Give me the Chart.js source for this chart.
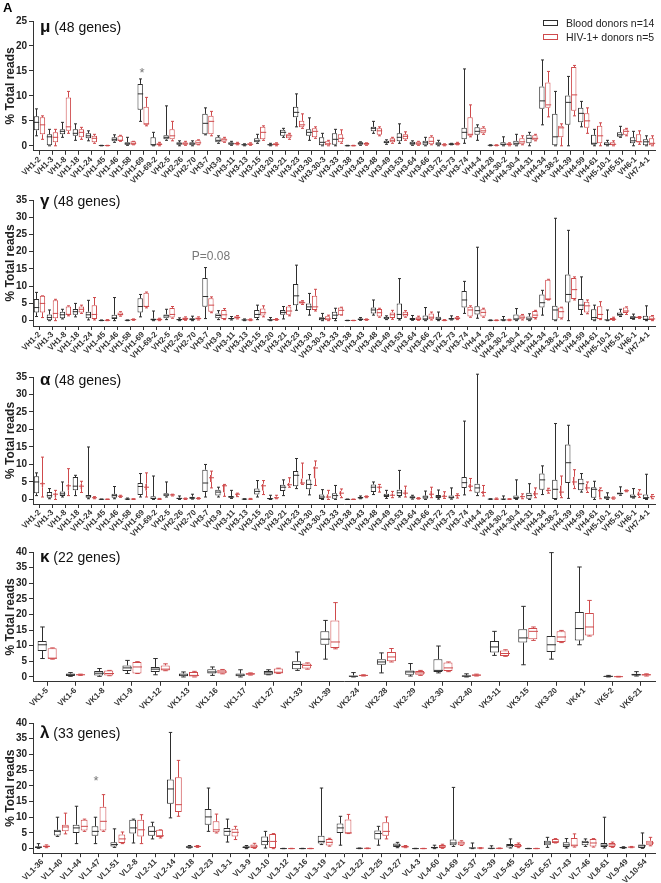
<!DOCTYPE html>
<html>
<head>
<meta charset="utf-8">
<script src="https://cdn.jsdelivr.net/npm/chart.js@4.4.1/dist/chart.umd.min.js"></script>
<style>
body { margin: 0; background: #fff; }
#wrap { position: relative; width: 661px; height: 883px; overflow: hidden; font-family: "Liberation Sans", Arial, sans-serif; }
.panel { position: absolute; left: 0; width: 661px; }
.ttl { position: absolute; left: 40px; font-size: 14px; line-height: 18px; color: #111; white-space: nowrap; }
.ttl b { font-size: 17px; }
.note { position: absolute; color: #777; white-space: nowrap; transform: translate(-50%, -50%); }
#legend { position: absolute; left: 543px; top: 16px; font-size: 10.5px; color: #222; }
#legend div { height: 14px; line-height: 14px; white-space: nowrap; }
#legend span { display: inline-block; width: 13px; height: 4px; border: 1px solid; margin-right: 8px; vertical-align: 1px; }
</style>
</head>
<body>
<div id="wrap">
  <div style="position:absolute;left:3px;top:0;font-weight:bold;font-size:13px;">A</div>
  <div class="ttl" style="top:18px"><b>μ</b> (48 genes)</div>
  <div class="ttl" style="top:192px"><b>γ</b> (48 genes)</div>
  <div class="ttl" style="top:371px"><b>α</b> (48 genes)</div>
  <div class="ttl" style="top:548px"><b>κ</b> (22 genes)</div>
  <div class="ttl" style="top:724px"><b>λ</b> (33 genes)</div>
  <div id="legend">
    <div><span style="border-color:#2e2e2e"></span>Blood donors n=14</div>
    <div><span style="border-color:#cf4a4c"></span>HIV-1+ donors n=5</div>
  </div>
  <div class="note" style="left:142px;top:72px;font-size:13px;">*</div>
  <div class="note" style="left:211px;top:256px;font-size:12px;">P=0.08</div>
  <div class="note" style="left:96px;top:780px;font-size:13px;">*</div>
</div>
<script>
// gene labels
const heavyGenes = ['VH1-2','VH1-3','VH1-8','VH1-18','VH1-24','VH1-45','VH1-46','VH1-58','VH1-69','VH1-69-2',
  'VH2-5','VH2-26','VH2-70','VH3-7','VH3-9','VH3-11','VH3-13','VH3-15','VH3-20','VH3-21','VH3-23','VH3-30',
  'VH3-30-3','VH3-33','VH3-38','VH3-43','VH3-48','VH3-49','VH3-53','VH3-64','VH3-66','VH3-72','VH3-73','VH3-74',
  'VH4-4','VH4-28','VH4-30-2','VH4-30-4','VH4-31','VH4-34','VH4-38-2','VH4-39','VH4-59','VH4-61','VH5-10-1',
  'VH5-51','VH6-1','VH7-4-1'];
const kappaGenes = ['VK1-5','VK1-6','VK1-8','VK1-9','VK1-12','VK1-13','VK1-16','VK1-17','VK1-27','VK1-33','VK1-39',
  'VK2-24','VK2-28','VK2-29','VK2-30','VK2-40','VK3-11','VK3-15','VK3-20','VK4-1','VK5-2','VK6-21'];
const lambdaGenes = ['VL1-36','VL1-40','VL1-44','VL1-47','VL1-51','VL2-8','VL2-11','VL2-14','VL2-18','VL2-23','VL3-1',
  'VL3-9','VL3-10','VL3-12','VL3-16','VL3-19','VL3-21','VL3-22','VL3-25','VL3-27','VL4-3','VL4-60','VL4-69','VL5-37',
  'VL5-39','VL5-45','VL5-52','VL6-57','VL7-43','VL7-46','VL8-61','VL9-49','VL10-54'];

// [min, q1, median, q3, max]  % total reads
const muBlood = [[2.0,3.1,4.7,5.9,7.4],[0,0,1.8,2.3,3.3],[1.7,2.3,2.9,3.3,4.7],[1.1,2.0,2.5,3.3,4.4],[1.0,1.5,2.0,2.5,3.0],
  [0,0,0.05,0.1,0.1],[0.7,0.9,1.3,1.7,2.2],[0.1,0.2,0.4,0.7,1.7],[4.9,7.2,10.4,12.4,13.4],[0,0,0.2,1.7,2.7],
  [1.1,1.3,1.7,2.1,8.0],[0,0.2,0.4,0.7,1.0],[0,0.1,0.4,0.7,1.0],[2.2,2.3,4.5,6.4,7.6],[0.5,0.7,1.1,1.7,2.0],
  [0.1,0.2,0.4,0.7,0.9],[0,0.1,0.2,0.3,0.4],[0.5,0.7,1.0,1.5,2.3],[0,0.1,0.2,0.3,0.5],[1.7,2.0,2.7,3.2,3.5],
  [3.8,5.7,6.7,7.8,10.4],[1.1,2.0,2.7,3.3,5.6],[0,0,0.7,1.7,2.5],[0,0.2,1.3,2.5,3.3],[0,0,0.02,0.05,0.1],
  [0.1,0.2,0.5,0.7,0.8],[2.5,2.9,3.5,3.8,4.9],[0.3,0.5,0.7,1.0,1.2],[0.5,0.9,1.7,2.5,4.4],[0.1,0.2,0.5,0.8,1.0],
  [0,0.1,0.6,1.0,1.7],[0,0.1,0.4,0.7,1.1],[0.2,0.2,0.3,0.5,0.5],[0.5,1.3,2.7,3.6,15.4],[1.1,2.2,2.9,3.7,4.2],
  [0,0.05,0.1,0.1,0.2],[0,0,0.3,0.7,1.8],[0,0,0.5,1.0,2.3],[0,0.5,1.5,2.2,2.7],[4.2,7.4,9.0,11.9,17.2],
  [0,0,1.8,6.4,10.9],[0,4.2,8.7,10.1,13.9],[3.8,4.7,6.5,7.6,8.9],[0,0.2,0.5,2.2,3.3],[0,0,0.3,0.7,1.1],
  [1.7,1.8,2.2,2.7,3.9],[0,0.5,1.0,1.7,2.9],[0,0,0.8,1.3,2.0]];
const muHiv = [[1.3,2.3,4.2,5.7,6.0],[0,0.7,1.7,2.7,3.3],[2.5,3.0,3.8,9.7,10.9],[1.3,1.7,2.7,3.3,3.7],[0.5,0.7,1.5,2.0,2.3],
  [0,0,0.05,0.1,0.1],[0.9,1.0,1.1,2.0,2.1],[0.2,0.2,0.5,0.9,0.9],[4.0,4.2,4.4,7.8,9.7],[0,0.1,0.3,0.5,0.7],
  [1.0,1.3,2.0,3.3,4.9],[0.1,0.2,0.4,0.7,0.9],[0.2,0.2,0.6,1.1,1.2],[2.0,2.3,4.9,6.0,6.9],[0.7,0.8,1.2,1.5,1.7],
  [0.2,0.3,0.4,0.6,0.7],[0.1,0.2,0.3,0.5,0.6],[1.1,1.3,2.7,3.8,4.0],[0,0.1,0.3,0.5,0.6],[1.3,1.5,2.0,2.3,2.5],
  [3.5,3.7,4.2,5.0,6.4],[1.5,1.7,2.9,3.5,3.8],[0,0,0.4,0.9,1.1],[0.5,0.7,1.5,2.3,3.2],[0,0,0.02,0.05,0.1],
  [0.1,0.2,0.4,0.6,0.6],[2.0,2.2,3.0,3.5,3.8],[0.5,0.7,1.1,1.5,1.7],[1.1,1.3,1.9,2.3,2.8],[0.1,0.2,0.4,0.8,0.9],
  [0.2,0.3,0.9,1.8,2.0],[0,0.1,0.2,0.3,0.4],[0.2,0.2,0.4,0.6,0.7],[1.8,2.0,2.3,5.7,8.2],[2.3,2.5,3.0,3.6,3.8],
  [0,0.05,0.1,0.1,0.2],[0,0,0.3,0.5,0.6],[0.2,0.3,0.8,1.5,2.0],[1.0,1.1,1.5,2.1,2.3],[5.8,7.6,8.2,12.7,14.9],
  [0,1.7,3.6,4.0,4.4],[6.0,7.0,10.2,15.8,16.1],[2.5,3.6,5.0,6.5,7.6],[0,0.5,2.0,4.0,4.6],[0,0,0.3,0.7,1.0],
  [2.0,2.2,2.9,3.3,3.5],[0.3,0.7,0.8,2.3,3.0],[0,0,0.5,1.5,2.0]];

const gammaBlood = [[1.2,2.4,3.8,6.3,8.2],[0,0,0.9,1.8,3.1],[0.5,0.7,1.7,2.6,3.3],[1.1,1.7,2.6,3.4,5.0],[0.2,0.7,1.7,2.6,5.9],
  [0,0,0.05,0.1,0.2],[0,0.5,0.8,1.7,6.7],[0,0.05,0.1,0.15,0.2],[1.1,2.4,4.1,6.5,7.6],[0,0,0.3,0.6,2.8],
  [0.3,0.7,1.4,1.8,3.3],[0,0.1,0.3,0.5,0.8],[0,0.1,0.4,0.7,1.3],[0.6,4.0,7.0,12.4,15.4],[0.3,0.7,1.5,2.1,2.9],
  [0.2,0.4,0.6,0.8,1.2],[0,0.1,0.2,0.3,0.5],[0.3,0.8,1.8,3.1,4.5],[0,0.1,0.2,0.4,0.9],[0.5,1.7,2.4,3.1,4.1],
  [3.0,4.5,7.2,10.6,16.1],[1.6,3.1,4.0,5.0,7.9],[0,0.1,0.6,1.0,2.1],[0,0.5,1.6,2.6,3.6],[0,0,0.05,0.1,0.1],
  [0.1,0.2,0.4,0.6,0.9],[1.6,2.1,3.1,3.8,6.0],[0.3,0.4,0.8,1.1,1.4],[0.2,0.5,1.8,5.0,12.2],[0.1,0.2,0.5,0.8,1.5],
  [0,0.1,0.5,1.5,3.8],[0,0.2,0.5,1.1,2.5],[0.2,0.3,0.5,0.8,1.4],[2.1,3.8,6.0,8.6,11.4],[0.7,1.8,2.9,4.2,21.3],
  [0,0.05,0.1,0.15,0.2],[0,0.05,0.2,0.4,1.2],[0,0.1,0.5,1.8,3.5],[0,0.1,0.5,1.2,2.0],[1.6,3.8,5.2,7.6,8.8],
  [0,0,3.1,4.3,29.7],[0,5.3,7.6,13.4,26.2],[1.8,3.1,4.5,6.3,12.7],[0,0,0.9,3.3,4.5],[0,0.1,0.2,0.3,3.1],
  [1.2,1.4,1.8,2.4,3.3],[0.4,0.5,1.0,1.3,1.9],[0,0.2,0.4,1.4,4.3]];
const gammaHiv = [[0.9,2.4,5.0,7.2,7.2],[0,0.7,2.1,5.9,6.2],[1.4,1.7,1.8,4.1,4.3],[2.1,2.4,3.3,4.1,4.5],[0.2,0.5,1.8,4.5,6.7],
  [0,0.05,0.1,0.2,0.3],[1.3,1.5,1.8,2.4,2.6],[0.1,0.2,0.3,0.4,0.5],[3.7,4.0,4.1,8.1,8.3],[0,0.1,0.3,0.6,0.7],
  [0.7,0.9,1.8,3.7,4.1],[0.1,0.2,0.6,0.9,1.1],[0.2,0.3,0.6,0.9,1.1],[2.3,2.6,4.5,6.5,6.9],[0.3,0.5,1.7,3.1,3.5],
  [0.5,0.6,0.9,1.3,1.5],[0,0.1,0.2,0.4,0.5],[1.1,1.5,2.3,3.5,4.3],[0.1,0.2,0.3,0.5,0.6],[1.4,1.7,2.8,4.1,4.4],
  [4.7,5.0,5.2,5.6,5.8],[2.8,3.1,4.0,7.2,9.1],[0,0.1,0.5,1.3,1.6],[1.6,1.6,3.0,3.8,3.9],[0,0,0.05,0.1,0.1],
  [0.1,0.2,0.3,0.4,0.5],[1.0,1.2,2.3,3.4,3.6],[0.4,0.8,1.7,2.4,3.0],[1.0,1.2,1.8,2.6,2.9],[0.1,0.2,0.5,1.0,1.3],
  [0.2,0.4,1.0,2.1,2.5],[0,0.05,0.1,0.2,0.3],[0.3,0.4,0.7,1.0,1.2],[1.0,1.2,3.1,4.0,4.3],[1.0,1.2,2.4,3.3,3.6],
  [0,0.05,0.1,0.15,0.2],[0,0.1,0.2,0.3,0.4],[0.2,0.4,1.0,1.6,1.8],[0.5,0.8,1.6,2.8,3.0],[6.0,6.0,6.3,11.9,12.0],
  [0.5,0.7,2.6,3.8,3.9],[6.0,6.3,9.0,12.4,12.7],[2.0,2.4,4.3,5.5,6.0],[0.3,0.5,1.8,4.2,5.5],[0.1,0.2,0.4,0.8,1.0],
  [1.8,2.2,2.8,3.8,4.0],[0.6,0.8,1.0,1.1,1.2],[0,0.2,0.5,1.3,1.5]];

const alphaBlood = [[1.1,1.8,5.0,6.6,7.6],[0.2,0.5,1.1,2.1,3.1],[0.7,1.0,1.6,2.3,5.0],[1.1,2.6,3.8,6.4,6.9],[0.2,0.5,1.0,1.3,15.0],
  [0,0,0.05,0.1,0.1],[0.2,0.5,1.1,1.6,3.7],[0,0.05,0.1,0.2,0.4],[0.7,1.3,3.7,4.7,7.4],[0,0,0.3,0.9,6.7],
  [0.7,0.9,1.3,1.8,5.0],[0,0.1,0.3,0.5,1.0],[0.1,0.2,0.4,0.8,1.5],[0.7,2.1,4.7,8.5,10.0],[0.7,1.1,2.1,2.8,3.5],
  [0.3,0.5,0.7,1.0,2.6],[0,0.05,0.1,0.15,0.2],[0.7,1.4,2.3,3.1,5.4],[0,0.1,0.2,0.4,1.2],[1.1,2.4,3.5,4.2,5.6],
  [3.1,3.8,6.9,8.1,11.7],[1.3,2.9,4.3,5.7,7.1],[0,0,0.7,1.4,2.8],[0,0.2,1.1,1.8,4.0],[0,0,0.02,0.05,0.1],
  [0.2,0.3,0.5,0.7,1.0],[1.4,2.1,3.5,4.3,5.0],[0.3,0.7,1.1,1.6,2.6],[0.7,1.0,1.9,2.8,8.3],[0.1,0.3,0.6,0.9,1.2],
  [0,0.2,0.7,1.1,2.4],[0.1,0.4,0.8,1.3,2.7],[0.1,0.3,0.6,1.1,3.3],[1.3,3.3,4.8,6.4,22.4],[1.1,1.9,3.3,4.5,35.8],
  [0,0.05,0.1,0.15,0.2],[0,0.05,0.1,0.2,1.0],[0,0,0.5,1.1,5.6],[0,0.2,1.1,1.9,4.5],[1.4,2.8,5.6,7.4,9.6],
  [0,0,2.9,5.6,21.7],[0.3,4.7,10.5,15.7,21.2],[2.1,2.6,4.5,5.9,7.4],[0,0.5,2.9,3.5,5.2],[0,0.2,0.5,0.9,1.9],
  [1.2,1.4,1.7,2.0,3.6],[0.4,0.5,0.8,1.4,3.1],[0,0,0.5,1.4,7.2]];
const alphaHiv = [[0.7,3.5,4.5,5.0,12.1],[0,0.5,1.5,2.0,2.6],[1.1,2.5,3.9,4.5,8.8],[2.0,3.0,3.8,4.5,5.2],[0.2,0.3,0.5,0.7,0.8],
  [0,0,0.05,0.1,0.1],[0.6,0.7,0.9,1.0,1.2],[0,0.05,0.1,0.15,0.2],[0.7,2.5,3.5,4.5,7.6],[0,0.05,0.1,0.2,0.3],
  [1.0,1.1,1.3,1.4,1.5],[0,0.1,0.2,0.3,0.4],[0.1,0.2,0.3,0.4,0.5],[3.3,5.0,6.2,7.0,8.1],[0.9,2.0,3.9,4.1,4.3],
  [0.8,1.0,1.5,1.6,1.8],[0,0.05,0.1,0.2,0.3],[1.4,2.5,3.9,4.5,5.4],[0.2,0.3,0.5,0.8,1.2],[3.5,3.8,4.2,4.8,6.2],
  [4.3,4.5,4.7,6.0,10.4],[4.0,6.0,9.0,9.5,11.0],[0,0.3,0.7,1.5,2.6],[0.5,1.0,1.8,2.5,3.0],[0,0,0.02,0.05,0.1],
  [0.5,0.6,0.8,0.9,1.0],[2.1,2.8,3.5,4.0,4.3],[0.5,0.9,1.2,1.8,2.3],[0.7,1.2,1.8,2.8,3.8],[0.1,0.2,0.3,0.4,0.5],
  [0.5,1.0,1.5,2.5,3.5],[0.3,0.5,0.9,1.5,2.2],[0.4,0.8,1.1,1.3,1.6],[2.5,3.2,3.8,4.5,6.0],[1.0,1.5,2.0,2.5,4.0],
  [0,0.05,0.1,0.2,0.4],[0,0.05,0.1,0.15,0.2],[0.2,0.5,0.8,1.2,1.6],[0.5,1.0,1.6,2.5,3.3],[1.8,2.2,2.6,2.9,3.2],
  [0.5,1.0,2.1,4.0,6.7],[3.1,4.0,5.0,6.5,8.5],[2.0,2.5,3.3,4.5,5.0],[0.2,0.5,2.5,3.0,3.3],[0.1,0.2,0.4,0.6,0.7],
  [2.2,2.3,2.5,2.6,2.7],[0.6,1.0,1.5,2.3,2.8],[0.2,0.4,0.8,1.2,1.4]];

const kappaBlood = [[5.9,8.3,10.3,11.5,16.0],[0.2,0.3,0.7,1.1,1.4],[0.2,0.5,1.2,1.9,2.7],[1.1,1.9,2.9,3.7,5.3],
  [0.7,1.6,2.5,3.2,5.9],[0,0.2,0.6,1.1,1.6],[0.5,1.1,1.6,2.5,3.2],[0,0.2,0.6,1.1,2.3],[0.7,0.7,1.3,1.9,2.3],
  [2.1,2.5,4.0,5.0,8.0],[5.7,10.3,12.1,14.6,18.1],[0,0,0.2,0.5,1.4],[1.3,3.9,4.8,5.7,7.7],[0.3,0.7,1.6,2.1,4.3],
  [1.3,1.6,2.1,5.7,9.9],[0,0.1,0.3,0.5,1.0],[6.9,7.8,9.6,11.5,14.6],[3.9,11.0,12.5,15.3,22.6],
  [5.7,8.0,10.3,13.1,39.8],[10.3,11.7,15.5,20.8,35.2],[0,0.1,0.2,0.3,0.5],[0.3,0.5,0.7,1.0,1.7]];
const kappaHiv = [[5.7,5.8,6.0,9.2,9.3],[0.5,0.6,0.7,0.8,0.9],[0.4,0.5,1.1,2.1,2.1],[1.1,1.1,3.2,4.8,4.9],
  [2.0,2.1,2.5,3.7,4.2],[0,0,0.5,1.6,1.8],[1.0,1.1,1.6,2.3,2.4],[0.6,0.7,1.0,1.2,1.3],[1.1,1.1,1.5,2.7,2.8],
  [2.5,2.7,3.7,4.3,4.5],[9.0,9.3,11.2,18.1,23.8],[0.3,0.4,0.5,0.6,0.7],[4.8,5.0,6.4,8.0,9.1],[0.5,0.7,1.3,1.9,2.1],
  [1.7,1.9,2.9,4.6,4.8],[0.3,0.4,0.6,0.8,0.9],[6.6,6.7,7.5,8.5,8.7],[11.7,12.1,14.6,15.7,16.0],
  [11.0,11.2,12.8,14.6,14.9],[13.1,13.3,16.0,20.5,24.5],[0,0.05,0.1,0.15,0.2],[0.3,0.5,0.7,0.9,1.0]];

const lambdaBlood = [[0.1,0.2,0.5,0.7,1.6],[3.9,4.2,5.5,6.0,10.0],[1.6,5.0,6.6,7.6,13.5],[1.6,4.1,5.5,7.1,10.0],
  [0.4,0.7,1.3,2.0,6.3],[1.8,4.8,6.6,9.2,9.4],[3.1,4.1,5.5,7.1,8.4],[9.8,14.3,19.0,22.0,37.0],[0.2,0.3,0.5,0.8,1.0],
  [5.5,7.6,10.1,12.6,19.3],[2.1,4.1,5.5,6.6,9.4],[0,0.2,0.5,0.7,1.0],[0.2,1.1,2.3,3.9,5.5],[0,0,0.02,0.05,0.1],
  [0,0,0.02,0.05,0.1],[1.3,1.6,2.3,4.1,19.3],[1.1,5.0,6.6,8.0,10.3],[0,0.05,0.1,0.15,0.2],[1.1,2.9,4.8,5.8,7.1],
  [0.3,0.5,1.1,1.6,2.0],[0,0,0.02,0.05,0.1],[0,0.2,0.3,0.6,1.1],[0.7,1.1,1.8,2.9,19.5],[0,0.1,0.2,0.4,1.8],
  [0,0.05,0.1,0.3,0.9],[0.2,0.4,1.0,1.5,3.1],[0,0,0.02,0.05,0.1],[0.4,1.1,1.8,2.5,3.6],[0.2,0.5,1.2,2.0,3.2],
  [0.7,1.1,2.0,2.5,3.1],[0.2,0.5,1.1,1.8,10.0],[0.1,0.2,0.3,0.5,0.6],[0.1,0.2,0.9,1.3,5.0]];
const lambdaHiv = [[0.3,0.5,0.7,1.0,1.2],[4.7,5.5,6.9,7.6,11.3],[5.5,5.8,7.1,9.2,9.4],[5.5,5.8,8.7,13.3,17.2],
  [1.6,1.8,3.1,4.5,5.3],[1.6,3.9,6.0,9.2,10.8],[3.4,3.7,4.1,6.0,6.0],[10.3,11.7,14.0,22.7,28.1],[0.4,0.5,0.7,0.9,1.0],
  [5.0,5.2,6.0,8.7,11.0],[2.9,3.9,5.2,6.3,7.1],[0.1,0.2,0.8,1.3,1.7],[0,0.2,2.3,4.7,4.8],[0,0,0.02,0.05,0.1],
  [0,0,0.02,0.05,0.1],[0.8,1.0,2.0,3.1,3.3],[4.8,4.8,5.0,9.3,10.9],[0,0.05,0.1,0.15,0.2],[3.1,4.1,5.5,8.4,10.1],
  [0.3,0.4,0.6,0.9,1.0],[0,0,0.02,0.05,0.1],[0.1,0.2,0.8,1.2,1.4],[1.0,1.1,1.8,2.3,2.5],[0,0.1,0.2,0.3,0.3],
  [0,0.05,0.1,0.2,0.2],[0.3,0.5,0.9,1.5,1.8],[0,0,0.02,0.05,0.1],[1.8,1.8,2.2,3.1,3.2],[0.5,0.7,1.1,3.4,4.7],
  [0.5,0.7,1.8,3.1,3.2],[0.4,0.5,1.2,1.8,2.1],[0.3,0.4,0.5,0.6,0.7],[0.9,1.1,1.8,2.5,3.6]];

Chart.defaults.font.family = '"Liberation Sans", Arial, sans-serif';
Chart.defaults.color = '#222';
const BLACK = '#2e2e2e';
const RED = '#cf4a4c';
const wrap = document.getElementById('wrap');

// whiskers + median on top of the floating bars
const whiskers = {
  id: 'whiskers',
  afterDatasetsDraw(chart) {
    const ctx = chart.ctx;
    const y = chart.scales.y;
    chart.data.datasets.forEach((ds, di) => {
      const meta = chart.getDatasetMeta(di);
      ctx.save();
      ctx.strokeStyle = ds.borderColor;
      ctx.lineWidth = 1;
      meta.data.forEach((bar, i) => {
        const s = ds.stats[i];
        const x = Math.round(bar.x) + 0.5;
        const half = Math.max(bar.width / 2, 2.5);
        const cap = Math.max(bar.width * 0.25, 1.5);
        const pMin = y.getPixelForValue(s[0]), pQ1 = y.getPixelForValue(s[1]);
        const pMed = y.getPixelForValue(s[2]), pQ3 = y.getPixelForValue(s[3]);
        const pMax = y.getPixelForValue(s[4]);
        ctx.beginPath();
        ctx.moveTo(x, pQ3); ctx.lineTo(x, pMax);
        ctx.moveTo(x - cap, pMax); ctx.lineTo(x + cap, pMax);
        ctx.moveTo(x, pQ1); ctx.lineTo(x, pMin);
        ctx.moveTo(x - cap, pMin); ctx.lineTo(x + cap, pMin);
        ctx.moveTo(x - half, pMed); ctx.lineTo(x + half, pMed);
        ctx.stroke();
      });
      ctx.restore();
    });
  }
};

function boxSet(label, stats, color, barPct) {
  return {
    label: label,
    data: stats.map(s => [s[1], s[3]]),
    stats: stats,
    backgroundColor: '#fff',
    borderColor: color,
    borderWidth: 1,
    borderSkipped: false,
    barPercentage: barPct
  };
}

function makePanel(p) {
  const top = p.chartTop - 12;
  const div = document.createElement('div');
  div.className = 'panel';
  div.style.top = top + 'px';
  div.style.height = (p.axis + 34 - top) + 'px';
  const cv = document.createElement('canvas');
  div.appendChild(cv);
  wrap.insertBefore(div, wrap.firstChild);

  new Chart(cv, {
    type: 'bar',
    data: {
      labels: p.genes,
      datasets: [
        boxSet('Blood donors n=14', p.blood, BLACK, p.barPct[0]),
        boxSet('HIV-1+ donors n=5', p.hiv, RED, p.barPct[1])
      ]
    },
    options: {
      responsive: true,
      maintainAspectRatio: false,
      animation: false,
      events: [],
      categoryPercentage: p.catPct,
      layout: { padding: { top: 12, right: 6, left: 0, bottom: 0 } },
      plugins: { legend: { display: false }, tooltip: { enabled: false } },
      scales: {
        x: {
          offset: true,
          grid: { drawOnChartArea: false, drawTicks: true, tickLength: 4, offset: false, color: '#333' },
          border: { color: '#333', width: 1 },
          ticks: { autoSkip: false, minRotation: 45, maxRotation: 45, padding: 0, color: '#333',
                   font: { size: 8, weight: 'bold' } },
          afterFit: s => { s.height = 34; }
        },
        y: {
          min: p.min,
          max: p.max,
          grid: { drawOnChartArea: false, drawTicks: true, tickLength: 4, color: '#333' },
          border: { color: '#333', width: 1 },
          ticks: { stepSize: 5, includeBounds: false, padding: 2, color: '#222', font: { size: 10, weight: 'bold' } },
          afterBuildTicks: s => { s.ticks = s.ticks.filter(t => t.value >= 0 && t.value <= p.max); },
          title: { display: true, text: '% Total reads', color: '#222', padding: { top: 3, bottom: 0 },
                   font: { size: 12, weight: 'bold' } },
          afterFit: s => { s.width = 33; }
        }
      }
    },
    plugins: [whiskers]
  });
}

makePanel({ genes: heavyGenes, blood: muBlood, hiv: muHiv, max: 25, min: -1.0, chartTop: 20.7, axis: 150.5, catPct: 0.92, barPct: [0.9, 0.9] });
makePanel({ genes: heavyGenes, blood: gammaBlood, hiv: gammaHiv, max: 35, min: -1.55, chartTop: 200, axis: 326, catPct: 0.92, barPct: [0.9, 0.9] });
makePanel({ genes: heavyGenes, blood: alphaBlood, hiv: alphaHiv, max: 35, min: -1.3, chartTop: 376.5, axis: 503.5, catPct: 0.92, barPct: [0.9, 0.3] });
makePanel({ genes: kappaGenes, blood: kappaBlood, hiv: kappaHiv, max: 40, min: -1.55, chartTop: 551.7, axis: 681.5, catPct: 0.71, barPct: [0.9, 0.9] });
makePanel({ genes: lambdaGenes, blood: lambdaBlood, hiv: lambdaHiv, max: 40, min: -1.45, chartTop: 723.3, axis: 853.5, catPct: 0.85, barPct: [0.85, 0.85] });
</script>
</body>
</html>
